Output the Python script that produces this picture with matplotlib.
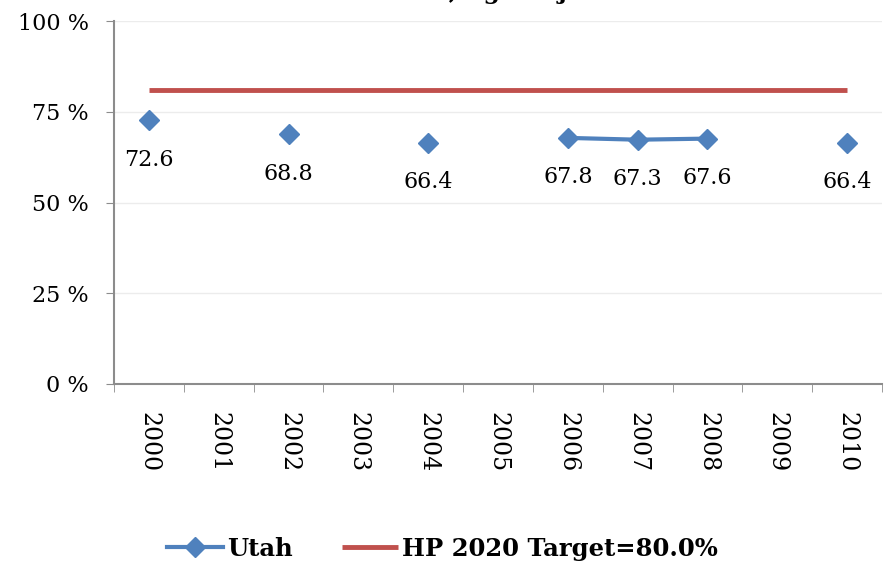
import matplotlib
matplotlib.use("Agg")
import matplotlib.pyplot as plt
import numpy as np

years = ["2000", "2001", "2002", "2003", "2004", "2005", "2006", "2007", "2008", "2009", "2010"]
utah = [72.6, np.nan, 68.8, np.nan, 66.4, np.nan, 67.8, 67.3, 67.6, np.nan, 66.4]
target = [81.0] * 11
yticks = [0, 25, 50, 75, 100]
ytick_labels = ["0 %", "25 %", "50 %", "75 %", "100 %"]
title = "Influenza Vaccination, Age Adjusted"

plt.rcParams['font.family'] = ['DejaVu Serif']

fig = plt.figure(figsize=(8.85, 5.66), dpi=100)
ax = fig.add_axes([114/885, 1-384/566, (882-114)/885, (384-21)/566])

x = np.arange(len(years))
blue = "#4F81BD"
red = "#C0504D"

ax.plot(x, target, color=red, lw=3.5, solid_capstyle='butt', label="HP 2020 Target=80.0%", zorder=2)
ax.plot(x, utah, color=blue, lw=3, marker='D', markersize=10, label="Utah", zorder=3)

for xi, v in zip(x, utah):
    if not np.isnan(v):
        ax.annotate(f"{v:.1f}", (xi, v), xytext=(0, -20.5), textcoords='offset points',
                    ha='center', va='top', fontsize=16, color='black')

ax.set_xlim(-0.5, 10.5)
ax.set_ylim(0, 100)
ax.set_yticks(yticks)
ax.set_yticklabels(ytick_labels, fontsize=16)
ax.set_xticks(x)
ax.set_xticklabels(years, rotation=270, fontsize=17)
ax.set_xticks(np.arange(-0.5, 11, 1), minor=True)
ax.tick_params(axis='x', which='major', length=0, pad=20)
ax.tick_params(axis='x', which='minor', length=6, color='#8c8c8c', direction='out')
ax.tick_params(axis='y', length=6, color='#8c8c8c', direction='out', pad=12)

ax.grid(axis='y', color='#ececec', lw=1)
ax.set_axisbelow(True)
for s in ['top', 'right']:
    ax.spines[s].set_visible(False)
for s in ['left', 'bottom']:
    ax.spines[s].set_color('#8c8c8c')
    ax.spines[s].set_linewidth(1.5)

handles, labels = ax.get_legend_handles_labels()
leg = fig.legend(handles[::-1], labels[::-1], loc='center', bbox_to_anchor=(0.5, 1-549/566),
                 ncol=2, frameon=False, prop={'weight': 'bold', 'size': 17.5},
                 handlelength=2.3, columnspacing=2.0, handletextpad=0.2)

fig.text(640/885, 1.0 + 1/566, title, ha='right', va='baseline', fontsize=17, weight='bold')

fig.savefig("out.png", dpi=100)
